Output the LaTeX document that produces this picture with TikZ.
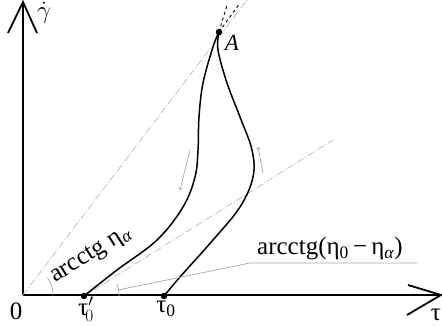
\documentclass[tikz,border=0pt]{standalone}
\usepackage{fontspec}
\setmainfont{Liberation Serif}
\begin{document}
\begin{tikzpicture}[x=1pt,y=1pt,
  axis/.style={line width=1.8pt},
  curve/.style={line width=1.5pt},
  guide/.style={gray!50,line width=0.8pt,dash pattern=on 7pt off 2pt on 1pt off 2pt},
  thin/.style={gray!70,line width=0.7pt},
  dotpt/.style={circle,fill=black,inner sep=0pt,minimum size=6.5pt},
  lbl/.style={font=\fontsize{25}{28}\selectfont,inner sep=0pt}]
\useasboundingbox (0,0) rectangle (442,326);
% axes
\coordinate (O) at (23,31);
\coordinate (ytop) at (23,324);
\coordinate (xend) at (441,31);
\draw[axis] (O) -- (ytop);
\draw[axis] (O) -- (xend);
\draw[axis] (8,293) -- (ytop) -- (37,293);
\draw[axis] (408,41) -- (xend) -- (407,11);
% guide lines
\coordinate (g1) at (247,326);
\draw[guide] (O) -- (g1);
\node[dotpt] (t0p) at (84,30) {};
\node[dotpt] (t0) at (164,30) {};
\node[dotpt] (A) at (219,294) {};
\coordinate (g2) at (333,186);
\draw[guide] (t0p.center) -- (g2);
% dashed continuations at A
\coordinate (d1) at (227,321);
\coordinate (d2) at (240,323);
\draw[dashed,line width=0.9pt] (A.center) -- (d1);
\draw[dashed,line width=0.9pt] (A.center) -- (d2);
% curves
\draw[curve] plot[smooth,tension=0.6] coordinates {(219,294) (213,279) (203,243) (199,209) (198,176) (195,149) (183,119) (157,86) (117,56) (84,30)};
\draw[curve] plot[smooth,tension=0.6] coordinates {(164,30) (180,49) (213,86) (240,119) (253,149) (252,176) (240,209) (227,243) (218,276) (219,294)};
% direction arrows
\coordinate (a1s) at (190,176);
\coordinate (a1e) at (180,136);
\draw[thin,->] (a1s) -- (a1e);
\coordinate (a2s) at (263,153);
\coordinate (a2e) at (258,179);
\draw[thin,->] (a2s) -- (a2e);
% angle arcs
\draw[thin] (53,31) arc[start angle=0,end angle=35,radius=30];
\draw[thin] (119,30) arc[start angle=0,end angle=20,radius=35];
% leader
\coordinate (l1) at (417,63);
\coordinate (l2) at (250,63);
\coordinate (l3) at (118,36);
\draw[thin] (l1) -- (l2) -- (l3);
% labels
\node[lbl,anchor=base west] (lab2) at (257,71) {arcctg(η\textsubscript{0}\,−\,η\textsubscript{\textit{α}})};
\node[lbl,anchor=base west,rotate=32] (lab1) at (55,43) {arcctg η\textsubscript{\textit{α}}};
\node[lbl] (Olab) at (16,15) {0};
\node[lbl] (tplab) at (86,17) {τ$'_{\!0}$};
\node[lbl] (tlab) at (166,17) {τ\textsubscript{0}};
\node[lbl] (taulab) at (436,11) {τ};
\node[lbl,font=\fontsize{26}{28}\selectfont] (glab) at (44,313) {$\dot{\gamma}$};
\node[lbl,font=\fontsize{23}{26}\selectfont\itshape] (Alab) at (232,283) {A};
\end{tikzpicture}
\end{document}
